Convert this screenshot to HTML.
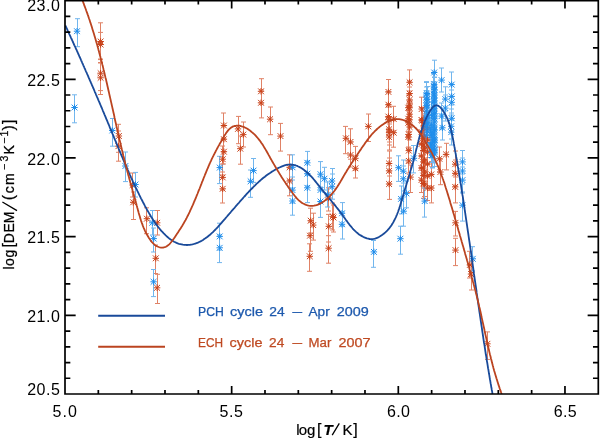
<!DOCTYPE html>
<html><head><meta charset="utf-8"><style>html,body{margin:0;padding:0;background:#fff;width:600px;height:439px;overflow:hidden}svg{display:block;will-change:transform}</style></head>
<body><svg width="600" height="439" viewBox="0 0 600 439"><rect width="600" height="439" fill="#fff"/><defs><clipPath id="c"><rect x="65" y="0.6" width="533.3" height="393.4"/></clipPath></defs><g clip-path="url(#c)" fill="none"><path d="M100.5,22.8V59.6M98.0,22.8h5.0M98.0,59.6h5.0M100.5,32.4V62.5M98.0,32.4h5.0M98.0,62.5h5.0M100.5,59.0V90.6M98.0,59.0h5.0M98.0,90.6h5.0M100.5,63.0V94.5M98.0,63.0h5.0M98.0,94.5h5.0M118.5,124.3V152.3M116.0,124.3h5.0M116.0,152.3h5.0M118.5,131.0V161.2M116.0,131.0h5.0M116.0,161.2h5.0M132.5,173.0V197.0M130.0,173.0h5.0M130.0,197.0h5.0M133.5,192.0V219.5M131.0,192.0h5.0M131.0,219.5h5.0M146.5,207.8V233.7M144.0,207.8h5.0M144.0,233.7h5.0M157.5,210.5V235.0M155.0,210.5h5.0M155.0,235.0h5.0M155.5,245.0V273.5M153.0,245.0h5.0M153.0,273.5h5.0M157.5,274.3V303.5M155.0,274.3h5.0M155.0,303.5h5.0M223.5,113.0V138.0M221.0,113.0h5.0M221.0,138.0h5.0M223.5,126.0V152.0M221.0,126.0h5.0M221.0,152.0h5.0M223.5,139.0V164.0M221.0,139.0h5.0M221.0,164.0h5.0M222.5,146.0V172.0M220.0,146.0h5.0M220.0,172.0h5.0M222.5,164.0V190.0M220.0,164.0h5.0M220.0,190.0h5.0M222.5,175.0V203.0M220.0,175.0h5.0M220.0,203.0h5.0M238.5,116.4V143.7M236.0,116.4h5.0M236.0,143.7h5.0M243.5,122.0V147.0M241.0,122.0h5.0M241.0,147.0h5.0M240.5,136.0V164.2M238.0,136.0h5.0M238.0,164.2h5.0M261.5,78.7V104.0M259.0,78.7h5.0M259.0,104.0h5.0M261.5,90.0V117.9M259.0,90.0h5.0M259.0,117.9h5.0M270.5,107.0V134.7M268.0,107.0h5.0M268.0,134.7h5.0M280.5,123.4V151.1M278.0,123.4h5.0M278.0,151.1h5.0M289.5,154.8V180.0M287.0,154.8h5.0M287.0,180.0h5.0M289.5,168.0V195.8M287.0,168.0h5.0M287.0,195.8h5.0M310.5,208.2V233.0M308.0,208.2h5.0M308.0,233.0h5.0M313.5,213.2V240.1M311.0,213.2h5.0M311.0,240.1h5.0M310.5,222.0V251.3M308.0,222.0h5.0M308.0,251.3h5.0M309.5,243.8V271.3M307.0,243.8h5.0M307.0,271.3h5.0M328.5,187.8V211.0M326.0,187.8h5.0M326.0,211.0h5.0M328.5,214.4V242.0M326.0,214.4h5.0M326.0,242.0h5.0M328.5,235.7V263.2M326.0,235.7h5.0M326.0,263.2h5.0M332.5,203.0V230.0M330.0,203.0h5.0M330.0,230.0h5.0M333.5,205.0V232.0M331.0,205.0h5.0M331.0,232.0h5.0M345.5,126.4V153.7M343.0,126.4h5.0M343.0,153.7h5.0M350.5,128.8V159.2M348.0,128.8h5.0M348.0,159.2h5.0M355.5,146.4V170.0M353.0,146.4h5.0M353.0,170.0h5.0M355.5,156.0V178.0M353.0,156.0h5.0M353.0,178.0h5.0M350.5,143.0V167.0M348.0,143.0h5.0M348.0,167.0h5.0M368.5,114.0V141.5M366.0,114.0h5.0M366.0,141.5h5.0M388.5,79.5V105.0M386.0,79.5h5.0M386.0,105.0h5.0M388.5,92.0V117.0M386.0,92.0h5.0M386.0,117.0h5.0M388.5,104.0V129.0M386.0,104.0h5.0M386.0,129.0h5.0M388.5,107.0V132.0M386.0,107.0h5.0M386.0,132.0h5.0M389.5,117.0V142.0M387.0,117.0h5.0M387.0,142.0h5.0M389.5,120.0V145.0M387.0,120.0h5.0M387.0,145.0h5.0M389.5,124.0V150.0M387.0,124.0h5.0M387.0,150.0h5.0M389.5,151.0V176.0M387.0,151.0h5.0M387.0,176.0h5.0M389.5,158.0V184.0M387.0,158.0h5.0M387.0,184.0h5.0M389.5,172.0V199.4M387.0,172.0h5.0M387.0,199.4h5.0M393.5,106.3V131.0M391.0,106.3h5.0M391.0,131.0h5.0M393.5,120.0V147.2M391.0,120.0h5.0M391.0,147.2h5.0M409.5,69.9V95.0M407.0,69.9h5.0M407.0,95.0h5.0M409.5,81.0V106.0M407.0,81.0h5.0M407.0,106.0h5.0M409.5,87.0V112.0M407.0,87.0h5.0M407.0,112.0h5.0M409.5,91.0V116.0M407.0,91.0h5.0M407.0,116.0h5.0M409.5,95.0V120.0M407.0,95.0h5.0M407.0,120.0h5.0M409.5,101.0V127.0M407.0,101.0h5.0M407.0,127.0h5.0M409.5,107.0V132.0M407.0,107.0h5.0M407.0,132.0h5.0M409.5,114.0V140.0M407.0,114.0h5.0M407.0,140.0h5.0M408.5,122.0V147.0M406.0,122.0h5.0M406.0,147.0h5.0M408.5,138.0V163.0M406.0,138.0h5.0M406.0,163.0h5.0M408.5,148.0V173.0M406.0,148.0h5.0M406.0,173.0h5.0M410.5,165.0V192.5M408.0,165.0h5.0M408.0,192.5h5.0M421.5,97.2V121.0M419.0,97.2h5.0M419.0,121.0h5.0M422.5,108.0V133.0M420.0,108.0h5.0M420.0,133.0h5.0M422.5,126.0V151.0M420.0,126.0h5.0M420.0,151.0h5.0M423.5,115.0V141.0M421.0,115.0h5.0M421.0,141.0h5.0M423.5,132.0V158.0M421.0,132.0h5.0M421.0,158.0h5.0M423.5,138.0V163.0M421.0,138.0h5.0M421.0,163.0h5.0M423.5,149.0V175.0M421.0,149.0h5.0M421.0,175.0h5.0M423.5,155.0V180.0M421.0,155.0h5.0M421.0,180.0h5.0M423.5,163.0V188.0M421.0,163.0h5.0M421.0,188.0h5.0M423.5,171.0V198.3M421.0,171.0h5.0M421.0,198.3h5.0M431.5,162.0V187.0M429.0,162.0h5.0M429.0,187.0h5.0M431.5,175.0V202.9M429.0,175.0h5.0M429.0,202.9h5.0M439.5,147.0V172.0M437.0,147.0h5.0M437.0,172.0h5.0M440.5,159.0V184.7M438.0,159.0h5.0M438.0,184.7h5.0M446.5,143.3V169.9M444.0,143.3h5.0M444.0,169.9h5.0M455.5,151.0V177.0M453.0,151.0h5.0M453.0,177.0h5.0M455.5,160.0V186.0M453.0,160.0h5.0M453.0,186.0h5.0M455.5,174.0V202.9M453.0,174.0h5.0M453.0,202.9h5.0M455.5,211.4V236.0M453.0,211.4h5.0M453.0,236.0h5.0M455.5,238.3V265.6M453.0,238.3h5.0M453.0,265.6h5.0M469.5,251.3V278.0M467.0,251.3h5.0M467.0,278.0h5.0M471.5,261.0V290.0M469.0,261.0h5.0M469.0,290.0h5.0M487.5,331.9V359.4M485.0,331.9h5.0M485.0,359.4h5.0M421.5,107.5V132.5M419.0,107.5h5.0M419.0,132.5h5.0M424.5,111.5V136.5M422.0,111.5h5.0M422.0,136.5h5.0M427.5,115.5V140.5M425.0,115.5h5.0M425.0,140.5h5.0M421.5,119.5V144.5M419.0,119.5h5.0M419.0,144.5h5.0M424.5,123.5V148.5M422.0,123.5h5.0M422.0,148.5h5.0M427.5,127.5V152.5M425.0,127.5h5.0M425.0,152.5h5.0M421.5,131.5V156.5M419.0,131.5h5.0M419.0,156.5h5.0M424.5,135.5V160.5M422.0,135.5h5.0M422.0,160.5h5.0M427.5,139.5V164.5M425.0,139.5h5.0M425.0,164.5h5.0M421.5,143.5V168.5M419.0,143.5h5.0M419.0,168.5h5.0M424.5,147.5V172.5M422.0,147.5h5.0M422.0,172.5h5.0M427.5,151.5V176.5M425.0,151.5h5.0M425.0,176.5h5.0M421.5,155.5V180.5M419.0,155.5h5.0M419.0,180.5h5.0M424.5,159.5V184.5M422.0,159.5h5.0M422.0,184.5h5.0M427.5,163.5V188.5M425.0,163.5h5.0M425.0,188.5h5.0M421.5,167.5V192.5M419.0,167.5h5.0M419.0,192.5h5.0M424.5,171.5V196.5M422.0,171.5h5.0M422.0,196.5h5.0M427.5,175.5V200.5M425.0,175.5h5.0M425.0,200.5h5.0M408.5,95.2V120.2M406.0,95.2h5.0M406.0,120.2h5.0M408.5,106.2V131.2M406.0,106.2h5.0M406.0,131.2h5.0M408.5,110.3V135.3M406.0,110.3h5.0M406.0,135.3h5.0M408.5,124.6V149.6M406.0,124.6h5.0M406.0,149.6h5.0" stroke="#e08266" stroke-width="1"/><path d="M77.5,18.7V46.7M75.0,18.7h5.0M75.0,46.7h5.0M74.5,94.8V122.8M72.0,94.8h5.0M72.0,122.8h5.0M112.5,118.5V146.2M110.0,118.5h5.0M110.0,146.2h5.0M125.5,152.0V181.6M123.0,152.0h5.0M123.0,181.6h5.0M135.5,172.4V197.0M133.0,172.4h5.0M133.0,197.0h5.0M152.5,210.5V235.0M150.0,210.5h5.0M150.0,235.0h5.0M153.5,228.0V252.0M151.0,228.0h5.0M151.0,252.0h5.0M153.5,269.5V296.6M151.0,269.5h5.0M151.0,296.6h5.0M219.5,156.3V183.6M217.0,156.3h5.0M217.0,183.6h5.0M250.5,170.0V197.3M248.0,170.0h5.0M248.0,197.3h5.0M253.5,158.5V182.4M251.0,158.5h5.0M251.0,182.4h5.0M219.5,223.2V250.0M217.0,223.2h5.0M217.0,250.0h5.0M219.5,235.0V262.6M217.0,235.0h5.0M217.0,262.6h5.0M292.5,154.8V180.0M290.0,154.8h5.0M290.0,180.0h5.0M292.5,177.0V203.0M290.0,177.0h5.0M290.0,203.0h5.0M292.5,188.0V215.2M290.0,188.0h5.0M290.0,215.2h5.0M307.5,151.4V175.0M305.0,151.4h5.0M305.0,175.0h5.0M307.5,161.0V186.0M305.0,161.0h5.0M305.0,186.0h5.0M307.5,175.0V202.6M305.0,175.0h5.0M305.0,202.6h5.0M320.5,161.6V187.0M318.0,161.6h5.0M318.0,187.0h5.0M320.5,177.0V203.0M318.0,177.0h5.0M318.0,203.0h5.0M320.5,188.0V217.4M318.0,188.0h5.0M318.0,217.4h5.0M324.5,167.3V190.0M322.0,167.3h5.0M322.0,190.0h5.0M332.5,168.5V194.0M330.0,168.5h5.0M330.0,194.0h5.0M332.5,174.0V199.2M330.0,174.0h5.0M330.0,199.2h5.0M327.5,182.0V207.0M325.0,182.0h5.0M325.0,207.0h5.0M342.5,202.6V226.0M340.0,202.6h5.0M340.0,226.0h5.0M342.5,212.0V239.0M340.0,212.0h5.0M340.0,239.0h5.0M373.5,240.5V267.3M371.0,240.5h5.0M371.0,267.3h5.0M403.5,197.0V226.2M401.0,197.0h5.0M401.0,226.2h5.0M400.5,226.2V254.2M398.0,226.2h5.0M398.0,254.2h5.0M424.5,188.0V217.1M422.0,188.0h5.0M422.0,217.1h5.0M398.5,155.8V181.4M396.0,155.8h5.0M396.0,181.4h5.0M403.5,160.0V183.0M401.0,160.0h5.0M401.0,183.0h5.0M403.5,166.0V191.0M401.0,166.0h5.0M401.0,191.0h5.0M401.5,186.0V213.9M399.0,186.0h5.0M399.0,213.9h5.0M406.5,181.0V207.8M404.0,181.0h5.0M404.0,207.8h5.0M413.5,145.5V172.9M411.0,145.5h5.0M411.0,172.9h5.0M426.5,81.6V106.0M424.0,81.6h5.0M424.0,106.0h5.0M426.5,87.0V112.0M424.0,87.0h5.0M424.0,112.0h5.0M426.5,93.0V118.0M424.0,93.0h5.0M424.0,118.0h5.0M426.5,105.0V131.0M424.0,105.0h5.0M424.0,131.0h5.0M426.5,112.0V138.0M424.0,112.0h5.0M424.0,138.0h5.0M434.5,60.2V85.0M432.0,60.2h5.0M432.0,85.0h5.0M434.5,72.0V97.0M432.0,72.0h5.0M432.0,97.0h5.0M434.5,77.0V102.0M432.0,77.0h5.0M432.0,102.0h5.0M434.5,82.0V108.0M432.0,82.0h5.0M432.0,108.0h5.0M434.5,88.0V113.0M432.0,88.0h5.0M432.0,113.0h5.0M434.5,95.0V121.0M432.0,95.0h5.0M432.0,121.0h5.0M434.5,101.0V126.0M432.0,101.0h5.0M432.0,126.0h5.0M434.5,105.0V131.0M432.0,105.0h5.0M432.0,131.0h5.0M434.5,117.0V142.0M432.0,117.0h5.0M432.0,142.0h5.0M434.5,127.0V153.0M432.0,127.0h5.0M432.0,153.0h5.0M434.5,137.0V163.0M432.0,137.0h5.0M432.0,163.0h5.0M431.5,102.0V128.0M429.0,102.0h5.0M429.0,128.0h5.0M431.5,112.0V138.0M429.0,112.0h5.0M429.0,138.0h5.0M431.5,122.0V148.0M429.0,122.0h5.0M429.0,148.0h5.0M431.5,132.0V158.0M429.0,132.0h5.0M429.0,158.0h5.0M432.5,142.0V168.0M430.0,142.0h5.0M430.0,168.0h5.0M441.5,68.0V92.0M439.0,68.0h5.0M439.0,92.0h5.0M441.5,103.0V129.0M439.0,103.0h5.0M439.0,129.0h5.0M442.5,114.0V140.0M440.0,114.0h5.0M440.0,140.0h5.0M445.5,86.8V111.0M443.0,86.8h5.0M443.0,111.0h5.0M445.5,95.0V121.0M443.0,95.0h5.0M443.0,121.0h5.0M451.5,72.0V97.0M449.0,72.0h5.0M449.0,97.0h5.0M451.5,84.0V109.0M449.0,84.0h5.0M449.0,109.0h5.0M451.5,90.0V115.0M449.0,90.0h5.0M449.0,115.0h5.0M451.5,105.0V131.0M449.0,105.0h5.0M449.0,131.0h5.0M451.5,113.0V139.0M449.0,113.0h5.0M449.0,139.0h5.0M451.5,120.0V145.0M449.0,120.0h5.0M449.0,145.0h5.0M462.5,150.5V174.0M460.0,150.5h5.0M460.0,174.0h5.0M462.5,158.0V184.0M460.0,158.0h5.0M460.0,184.0h5.0M462.5,167.0V193.0M460.0,167.0h5.0M460.0,193.0h5.0M462.5,192.0V221.1M460.0,192.0h5.0M460.0,221.1h5.0M472.5,246.7V271.0M470.0,246.7h5.0M470.0,271.0h5.0M426.5,82.5V107.5M424.0,82.5h5.0M424.0,107.5h5.0M427.5,86.5V111.5M425.0,86.5h5.0M425.0,111.5h5.0M426.5,90.5V115.5M424.0,90.5h5.0M424.0,115.5h5.0M427.5,94.5V119.5M425.0,94.5h5.0M425.0,119.5h5.0M426.5,98.5V123.5M424.0,98.5h5.0M424.0,123.5h5.0M427.5,102.5V127.5M425.0,102.5h5.0M425.0,127.5h5.0M426.5,106.5V131.5M424.0,106.5h5.0M424.0,131.5h5.0M427.5,110.5V135.5M425.0,110.5h5.0M425.0,135.5h5.0M426.5,114.5V139.5M424.0,114.5h5.0M424.0,139.5h5.0M427.5,118.5V143.5M425.0,118.5h5.0M425.0,143.5h5.0M426.5,122.5V147.5M424.0,122.5h5.0M424.0,147.5h5.0M433.5,73.5V98.5M431.0,73.5h5.0M431.0,98.5h5.0M434.5,77.5V102.5M432.0,77.5h5.0M432.0,102.5h5.0M433.5,81.5V106.5M431.0,81.5h5.0M431.0,106.5h5.0M434.5,85.5V110.5M432.0,85.5h5.0M432.0,110.5h5.0M433.5,89.5V114.5M431.0,89.5h5.0M431.0,114.5h5.0M434.5,93.5V118.5M432.0,93.5h5.0M432.0,118.5h5.0M433.5,97.5V122.5M431.0,97.5h5.0M431.0,122.5h5.0M434.5,101.5V126.5M432.0,101.5h5.0M432.0,126.5h5.0M433.5,105.5V130.5M431.0,105.5h5.0M431.0,130.5h5.0M434.5,109.5V134.5M432.0,109.5h5.0M432.0,134.5h5.0M433.5,113.5V138.5M431.0,113.5h5.0M431.0,138.5h5.0M434.5,117.5V142.5M432.0,117.5h5.0M432.0,142.5h5.0M433.5,121.5V146.5M431.0,121.5h5.0M431.0,146.5h5.0M434.5,125.5V150.5M432.0,125.5h5.0M432.0,150.5h5.0M433.5,129.5V154.5M431.0,129.5h5.0M431.0,154.5h5.0M434.5,133.5V158.5M432.0,133.5h5.0M432.0,158.5h5.0M433.5,137.5V162.5M431.0,137.5h5.0M431.0,162.5h5.0M434.5,141.5V166.5M432.0,141.5h5.0M432.0,166.5h5.0M430.5,117.5V142.5M428.0,117.5h5.0M428.0,142.5h5.0M431.5,122.5V147.5M429.0,122.5h5.0M429.0,147.5h5.0M432.5,127.5V152.5M430.0,127.5h5.0M430.0,152.5h5.0M430.5,132.5V157.5M428.0,132.5h5.0M428.0,157.5h5.0M431.5,137.5V162.5M429.0,137.5h5.0M429.0,162.5h5.0M432.5,142.5V167.5M430.0,142.5h5.0M430.0,167.5h5.0" stroke="#72b6ed" stroke-width="1"/><path d="M97.4,41.5h6.4M100.6,38.3v6.4M97.7,38.6l5.8,5.8M97.7,44.4l5.8,-5.8M97.4,44.5h6.4M100.6,41.3v6.4M97.7,41.6l5.8,5.8M97.7,47.4l5.8,-5.8M97.4,73.2h6.4M100.6,70.0v6.4M97.7,70.3l5.8,5.8M97.7,76.1l5.8,-5.8M97.4,77.8h6.4M100.6,74.6v6.4M97.7,74.9l5.8,5.8M97.7,80.7l5.8,-5.8M115.7,136.0h6.4M118.9,132.8v6.4M116.0,133.1l5.8,5.8M116.0,138.9l5.8,-5.8M115.2,146.2h6.4M118.4,143.0v6.4M115.5,143.3l5.8,5.8M115.5,149.1l5.8,-5.8M129.4,185.0h6.4M132.6,181.8v6.4M129.7,182.1l5.8,5.8M129.7,187.9l5.8,-5.8M130.0,202.3h6.4M133.2,199.1v6.4M130.3,199.4l5.8,5.8M130.3,205.2l5.8,-5.8M143.7,218.7h6.4M146.9,215.5v6.4M144.0,215.8l5.8,5.8M144.0,221.6l5.8,-5.8M154.0,222.8h6.4M157.2,219.6v6.4M154.3,219.9l5.8,5.8M154.3,225.7l5.8,-5.8M152.6,258.3h6.4M155.8,255.1v6.4M152.9,255.4l5.8,5.8M152.9,261.2l5.8,-5.8M153.9,287.8h6.4M157.1,284.6v6.4M154.2,284.9l5.8,5.8M154.2,290.7l5.8,-5.8M220.7,125.5h6.4M223.9,122.3v6.4M221.0,122.6l5.8,5.8M221.0,128.4l5.8,-5.8M220.7,139.2h6.4M223.9,136.0v6.4M221.0,136.3l5.8,5.8M221.0,142.1l5.8,-5.8M220.7,151.7h6.4M223.9,148.5v6.4M221.0,148.8l5.8,5.8M221.0,154.6l5.8,-5.8M219.5,159.2h6.4M222.7,156.0v6.4M219.8,156.3l5.8,5.8M219.8,162.1l5.8,-5.8M219.5,177.4h6.4M222.7,174.2v6.4M219.8,174.5l5.8,5.8M219.8,180.3l5.8,-5.8M219.5,188.8h6.4M222.7,185.6v6.4M219.8,185.9l5.8,5.8M219.8,191.7l5.8,-5.8M234.8,128.9h6.4M238.0,125.7v6.4M235.1,126.0l5.8,5.8M235.1,131.8l5.8,-5.8M240.1,134.6h6.4M243.3,131.4v6.4M240.4,131.7l5.8,5.8M240.4,137.5l5.8,-5.8M237.1,148.7h6.4M240.3,145.5v6.4M237.4,145.8l5.8,5.8M237.4,151.6l5.8,-5.8M257.8,91.3h6.4M261.0,88.1v6.4M258.1,88.4l5.8,5.8M258.1,94.2l5.8,-5.8M257.8,102.8h6.4M261.0,99.6v6.4M258.1,99.9l5.8,5.8M258.1,105.7l5.8,-5.8M266.9,119.2h6.4M270.1,116.0v6.4M267.2,116.3l5.8,5.8M267.2,122.1l5.8,-5.8M277.3,136.1h6.4M280.5,132.9v6.4M277.6,133.2l5.8,5.8M277.6,139.0l5.8,-5.8M286.4,167.3h6.4M289.6,164.1v6.4M286.7,164.4l5.8,5.8M286.7,170.2l5.8,-5.8M286.4,181.0h6.4M289.6,177.8v6.4M286.7,178.1l5.8,5.8M286.7,183.9l5.8,-5.8M307.5,220.7h6.4M310.7,217.5v6.4M307.8,217.8l5.8,5.8M307.8,223.6l5.8,-5.8M310.0,225.1h6.4M313.2,221.9v6.4M310.3,222.2l5.8,5.8M310.3,228.0l5.8,-5.8M306.8,235.7h6.4M310.0,232.5v6.4M307.1,232.8l5.8,5.8M307.1,238.6l5.8,-5.8M306.6,256.3h6.4M309.8,253.1v6.4M306.9,253.4l5.8,5.8M306.9,259.2l5.8,-5.8M325.3,198.0h6.4M328.5,194.8v6.4M325.6,195.1l5.8,5.8M325.6,200.9l5.8,-5.8M325.6,226.3h6.4M328.8,223.1v6.4M325.9,223.4l5.8,5.8M325.9,229.2l5.8,-5.8M325.4,248.2h6.4M328.6,245.0v6.4M325.7,245.3l5.8,5.8M325.7,251.1l5.8,-5.8M329.4,216.3h6.4M332.6,213.1v6.4M329.7,213.4l5.8,5.8M329.7,219.2l5.8,-5.8M330.3,217.5h6.4M333.5,214.3v6.4M330.6,214.6l5.8,5.8M330.6,220.4l5.8,-5.8M342.7,138.3h6.4M345.9,135.1v6.4M343.0,135.4l5.8,5.8M343.0,141.2l5.8,-5.8M347.3,141.9h6.4M350.5,138.7v6.4M347.6,139.0l5.8,5.8M347.6,144.8l5.8,-5.8M352.2,158.3h6.4M355.4,155.1v6.4M352.5,155.4l5.8,5.8M352.5,161.2l5.8,-5.8M352.2,168.3h6.4M355.4,165.1v6.4M352.5,165.4l5.8,5.8M352.5,171.2l5.8,-5.8M347.3,155.0h6.4M350.5,151.8v6.4M347.6,152.1l5.8,5.8M347.6,157.9l5.8,-5.8M365.1,126.4h6.4M368.3,123.2v6.4M365.4,123.5l5.8,5.8M365.4,129.3l5.8,-5.8M385.2,91.9h6.4M388.4,88.7v6.4M385.5,89.0l5.8,5.8M385.5,94.8l5.8,-5.8M385.2,104.7h6.4M388.4,101.5v6.4M385.5,101.8l5.8,5.8M385.5,107.6l5.8,-5.8M385.2,116.6h6.4M388.4,113.4v6.4M385.5,113.7l5.8,5.8M385.5,119.5l5.8,-5.8M385.2,119.8h6.4M388.4,116.6v6.4M385.5,116.9l5.8,5.8M385.5,122.7l5.8,-5.8M385.9,129.3h6.4M389.1,126.1v6.4M386.2,126.4l5.8,5.8M386.2,132.2l5.8,-5.8M385.9,132.7h6.4M389.1,129.5v6.4M386.2,129.8l5.8,5.8M386.2,135.6l5.8,-5.8M385.9,137.0h6.4M389.1,133.8v6.4M386.2,134.1l5.8,5.8M386.2,139.9l5.8,-5.8M385.9,163.5h6.4M389.1,160.3v6.4M386.2,160.6l5.8,5.8M386.2,166.4l5.8,-5.8M385.9,170.8h6.4M389.1,167.6v6.4M386.2,167.9l5.8,5.8M386.2,173.7l5.8,-5.8M385.9,184.0h6.4M389.1,180.8v6.4M386.2,181.1l5.8,5.8M386.2,186.9l5.8,-5.8M390.5,119.0h6.4M393.7,115.8v6.4M390.8,116.1l5.8,5.8M390.8,121.9l5.8,-5.8M390.5,132.7h6.4M393.7,129.5v6.4M390.8,129.8l5.8,5.8M390.8,135.6l5.8,-5.8M406.4,82.3h6.4M409.6,79.1v6.4M406.7,79.4l5.8,5.8M406.7,85.2l5.8,-5.8M406.4,93.5h6.4M409.6,90.3v6.4M406.7,90.6l5.8,5.8M406.7,96.4l5.8,-5.8M406.4,99.9h6.4M409.6,96.7v6.4M406.7,97.0l5.8,5.8M406.7,102.8l5.8,-5.8M406.4,103.9h6.4M409.6,100.7v6.4M406.7,101.0l5.8,5.8M406.7,106.8l5.8,-5.8M406.4,107.8h6.4M409.6,104.6v6.4M406.7,104.9l5.8,5.8M406.7,110.7l5.8,-5.8M406.4,114.2h6.4M409.6,111.0v6.4M406.7,111.3l5.8,5.8M406.7,117.1l5.8,-5.8M406.4,119.8h6.4M409.6,116.6v6.4M406.7,116.9l5.8,5.8M406.7,122.7l5.8,-5.8M406.4,127.0h6.4M409.6,123.8v6.4M406.7,124.1l5.8,5.8M406.7,129.9l5.8,-5.8M405.6,134.4h6.4M408.8,131.2v6.4M405.9,131.5l5.8,5.8M405.9,137.3l5.8,-5.8M405.6,150.6h6.4M408.8,147.4v6.4M405.9,147.7l5.8,5.8M405.9,153.5l5.8,-5.8M405.6,160.9h6.4M408.8,157.7v6.4M405.9,158.0l5.8,5.8M405.9,163.8l5.8,-5.8M407.3,177.1h6.4M410.5,173.9v6.4M407.6,174.2l5.8,5.8M407.6,180.0l5.8,-5.8M418.5,109.0h6.4M421.7,105.8v6.4M418.8,106.1l5.8,5.8M418.8,111.9l5.8,-5.8M419.3,120.6h6.4M422.5,117.4v6.4M419.6,117.7l5.8,5.8M419.6,123.5l5.8,-5.8M419.3,138.8h6.4M422.5,135.6v6.4M419.6,135.9l5.8,5.8M419.6,141.7l5.8,-5.8M420.7,128.0h6.4M423.9,124.8v6.4M421.0,125.1l5.8,5.8M421.0,130.9l5.8,-5.8M420.7,145.0h6.4M423.9,141.8v6.4M421.0,142.1l5.8,5.8M421.0,147.9l5.8,-5.8M420.1,150.5h6.4M423.3,147.3v6.4M420.4,147.6l5.8,5.8M420.4,153.4l5.8,-5.8M420.1,161.9h6.4M423.3,158.7v6.4M420.4,159.0l5.8,5.8M420.4,164.8l5.8,-5.8M420.1,168.0h6.4M423.3,164.8v6.4M420.4,165.1l5.8,5.8M420.4,170.9l5.8,-5.8M420.1,175.6h6.4M423.3,172.4v6.4M420.4,172.7l5.8,5.8M420.4,178.5l5.8,-5.8M420.1,183.5h6.4M423.3,180.3v6.4M420.4,180.6l5.8,5.8M420.4,186.4l5.8,-5.8M428.1,174.4h6.4M431.3,171.2v6.4M428.4,171.5l5.8,5.8M428.4,177.3l5.8,-5.8M428.1,188.1h6.4M431.3,184.9v6.4M428.4,185.2l5.8,5.8M428.4,191.0l5.8,-5.8M436.2,158.8h6.4M439.4,155.6v6.4M436.5,155.9l5.8,5.8M436.5,161.7l5.8,-5.8M437.2,172.0h6.4M440.4,168.8v6.4M437.5,169.1l5.8,5.8M437.5,174.9l5.8,-5.8M442.9,154.4h6.4M446.1,151.2v6.4M443.2,151.5l5.8,5.8M443.2,157.3l5.8,-5.8M452.0,164.2h6.4M455.2,161.0v6.4M452.3,161.3l5.8,5.8M452.3,167.1l5.8,-5.8M452.0,173.3h6.4M455.2,170.1v6.4M452.3,170.4l5.8,5.8M452.3,176.2l5.8,-5.8M452.0,186.9h6.4M455.2,183.7v6.4M452.3,184.0l5.8,5.8M452.3,189.8l5.8,-5.8M452.3,222.8h6.4M455.5,219.6v6.4M452.6,219.9l5.8,5.8M452.6,225.7l5.8,-5.8M452.3,250.1h6.4M455.5,246.9v6.4M452.6,247.2l5.8,5.8M452.6,253.0l5.8,-5.8M466.7,264.9h6.4M469.9,261.7v6.4M467.0,262.0l5.8,5.8M467.0,267.8l5.8,-5.8M467.8,274.0h6.4M471.0,270.8v6.4M468.1,271.1l5.8,5.8M468.1,276.9l5.8,-5.8M484.2,343.8h6.4M487.4,340.6v6.4M484.5,340.9l5.8,5.8M484.5,346.7l5.8,-5.8M418.3,120.0h6.4M421.5,116.8v6.4M418.6,117.1l5.8,5.8M418.6,122.9l5.8,-5.8M421.3,124.0h6.4M424.5,120.8v6.4M421.6,121.1l5.8,5.8M421.6,126.9l5.8,-5.8M424.3,128.0h6.4M427.5,124.8v6.4M424.6,125.1l5.8,5.8M424.6,130.9l5.8,-5.8M418.3,132.0h6.4M421.5,128.8v6.4M418.6,129.1l5.8,5.8M418.6,134.9l5.8,-5.8M421.3,136.0h6.4M424.5,132.8v6.4M421.6,133.1l5.8,5.8M421.6,138.9l5.8,-5.8M424.3,140.0h6.4M427.5,136.8v6.4M424.6,137.1l5.8,5.8M424.6,142.9l5.8,-5.8M418.3,144.0h6.4M421.5,140.8v6.4M418.6,141.1l5.8,5.8M418.6,146.9l5.8,-5.8M421.3,148.0h6.4M424.5,144.8v6.4M421.6,145.1l5.8,5.8M421.6,150.9l5.8,-5.8M424.3,152.0h6.4M427.5,148.8v6.4M424.6,149.1l5.8,5.8M424.6,154.9l5.8,-5.8M418.3,156.0h6.4M421.5,152.8v6.4M418.6,153.1l5.8,5.8M418.6,158.9l5.8,-5.8M421.3,160.0h6.4M424.5,156.8v6.4M421.6,157.1l5.8,5.8M421.6,162.9l5.8,-5.8M424.3,164.0h6.4M427.5,160.8v6.4M424.6,161.1l5.8,5.8M424.6,166.9l5.8,-5.8M418.3,168.0h6.4M421.5,164.8v6.4M418.6,165.1l5.8,5.8M418.6,170.9l5.8,-5.8M421.3,172.0h6.4M424.5,168.8v6.4M421.6,169.1l5.8,5.8M421.6,174.9l5.8,-5.8M424.3,176.0h6.4M427.5,172.8v6.4M424.6,173.1l5.8,5.8M424.6,178.9l5.8,-5.8M418.3,180.0h6.4M421.5,176.8v6.4M418.6,177.1l5.8,5.8M418.6,182.9l5.8,-5.8M421.3,184.0h6.4M424.5,180.8v6.4M421.6,181.1l5.8,5.8M421.6,186.9l5.8,-5.8M424.3,188.0h6.4M427.5,184.8v6.4M424.6,185.1l5.8,5.8M424.6,190.9l5.8,-5.8M405.1,107.7h6.4M408.3,104.5v6.4M405.4,104.8l5.8,5.8M405.4,110.6l5.8,-5.8M405.1,118.7h6.4M408.3,115.5v6.4M405.4,115.8l5.8,5.8M405.4,121.6l5.8,-5.8M405.1,122.8h6.4M408.3,119.6v6.4M405.4,119.9l5.8,5.8M405.4,125.7l5.8,-5.8M405.1,137.1h6.4M408.3,133.9v6.4M405.4,134.2l5.8,5.8M405.4,140.0l5.8,-5.8" stroke="#c9421a" stroke-width="1"/><path d="M73.8,31.2h6.4M77.0,28.0v6.4M74.1,28.3l5.8,5.8M74.1,34.1l5.8,-5.8M71.3,107.5h6.4M74.5,104.3v6.4M71.6,104.6l5.8,5.8M71.6,110.4l5.8,-5.8M109.1,130.5h6.4M112.3,127.3v6.4M109.4,127.6l5.8,5.8M109.4,133.4l5.8,-5.8M122.2,166.0h6.4M125.4,162.8v6.4M122.5,163.1l5.8,5.8M122.5,168.9l5.8,-5.8M132.3,184.5h6.4M135.5,181.3v6.4M132.6,181.6l5.8,5.8M132.6,187.4l5.8,-5.8M149.1,222.8h6.4M152.3,219.6v6.4M149.4,219.9l5.8,5.8M149.4,225.7l5.8,-5.8M150.5,238.6h6.4M153.7,235.4v6.4M150.8,235.7l5.8,5.8M150.8,241.5l5.8,-5.8M150.4,281.8h6.4M153.6,278.6v6.4M150.7,278.9l5.8,5.8M150.7,284.7l5.8,-5.8M216.6,167.6h6.4M219.8,164.4v6.4M216.9,164.7l5.8,5.8M216.9,170.5l5.8,-5.8M247.4,181.3h6.4M250.6,178.1v6.4M247.7,178.4l5.8,5.8M247.7,184.2l5.8,-5.8M250.3,170.6h6.4M253.5,167.4v6.4M250.6,167.7l5.8,5.8M250.6,173.5l5.8,-5.8M216.5,236.4h6.4M219.7,233.2v6.4M216.8,233.5l5.8,5.8M216.8,239.3l5.8,-5.8M216.5,247.8h6.4M219.7,244.6v6.4M216.8,244.9l5.8,5.8M216.8,250.7l5.8,-5.8M289.3,167.3h6.4M292.5,164.1v6.4M289.6,164.4l5.8,5.8M289.6,170.2l5.8,-5.8M289.3,190.1h6.4M292.5,186.9v6.4M289.6,187.2l5.8,5.8M289.6,193.0l5.8,-5.8M289.3,201.0h6.4M292.5,197.8v6.4M289.6,198.1l5.8,5.8M289.6,203.9l5.8,-5.8M304.1,162.8h6.4M307.3,159.6v6.4M304.4,159.9l5.8,5.8M304.4,165.7l5.8,-5.8M304.1,173.7h6.4M307.3,170.5v6.4M304.4,170.8l5.8,5.8M304.4,176.6l5.8,-5.8M304.1,187.8h6.4M307.3,184.6v6.4M304.4,184.9l5.8,5.8M304.4,190.7l5.8,-5.8M317.3,174.2h6.4M320.5,171.0v6.4M317.6,171.3l5.8,5.8M317.6,177.1l5.8,-5.8M317.3,190.0h6.4M320.5,186.8v6.4M317.6,187.1l5.8,5.8M317.6,192.9l5.8,-5.8M317.3,201.5h6.4M320.5,198.3v6.4M317.6,198.6l5.8,5.8M317.6,204.4l5.8,-5.8M321.2,178.7h6.4M324.4,175.5v6.4M321.5,175.8l5.8,5.8M321.5,181.6l5.8,-5.8M328.8,181.0h6.4M332.0,177.8v6.4M329.1,178.1l5.8,5.8M329.1,183.9l5.8,-5.8M328.8,186.7h6.4M332.0,183.5v6.4M329.1,183.8l5.8,5.8M329.1,189.6l5.8,-5.8M324.6,194.7h6.4M327.8,191.5v6.4M324.9,191.8l5.8,5.8M324.9,197.6l5.8,-5.8M338.8,213.3h6.4M342.0,210.1v6.4M339.1,210.4l5.8,5.8M339.1,216.2l5.8,-5.8M338.8,224.3h6.4M342.0,221.1v6.4M339.1,221.4l5.8,5.8M339.1,227.2l5.8,-5.8M370.7,251.9h6.4M373.9,248.7v6.4M371.0,249.0l5.8,5.8M371.0,254.8l5.8,-5.8M400.5,211.2h6.4M403.7,208.0v6.4M400.8,208.3l5.8,5.8M400.8,214.1l5.8,-5.8M397.2,238.7h6.4M400.4,235.5v6.4M397.5,235.8l5.8,5.8M397.5,241.6l5.8,-5.8M421.5,201.1h6.4M424.7,197.9v6.4M421.8,198.2l5.8,5.8M421.8,204.0l5.8,-5.8M395.3,167.7h6.4M398.5,164.5v6.4M395.6,164.8l5.8,5.8M395.6,170.6l5.8,-5.8M400.1,171.2h6.4M403.3,168.0v6.4M400.4,168.3l5.8,5.8M400.4,174.1l5.8,-5.8M400.1,178.8h6.4M403.3,175.6v6.4M400.4,175.9l5.8,5.8M400.4,181.7l5.8,-5.8M397.8,198.9h6.4M401.0,195.7v6.4M398.1,196.0l5.8,5.8M398.1,201.8l5.8,-5.8M403.2,193.4h6.4M406.4,190.2v6.4M403.5,190.5l5.8,5.8M403.5,196.3l5.8,-5.8M410.7,158.3h6.4M413.9,155.1v6.4M411.0,155.4l5.8,5.8M411.0,161.2l5.8,-5.8M423.6,93.5h6.4M426.8,90.3v6.4M423.9,90.6l5.8,5.8M423.9,96.4l5.8,-5.8M423.6,99.4h6.4M426.8,96.2v6.4M423.9,96.5l5.8,5.8M423.9,102.3l5.8,-5.8M423.6,105.3h6.4M426.8,102.1v6.4M423.9,102.4l5.8,5.8M423.9,108.2l5.8,-5.8M423.4,118.3h6.4M426.6,115.1v6.4M423.7,115.4l5.8,5.8M423.7,121.2l5.8,-5.8M423.4,125.2h6.4M426.6,122.0v6.4M423.7,122.3l5.8,5.8M423.7,128.1l5.8,-5.8M431.0,72.5h6.4M434.2,69.3v6.4M431.3,69.6l5.8,5.8M431.3,75.4l5.8,-5.8M431.0,84.6h6.4M434.2,81.4v6.4M431.3,81.7l5.8,5.8M431.3,87.5l5.8,-5.8M431.0,89.8h6.4M434.2,86.6v6.4M431.3,86.9l5.8,5.8M431.3,92.7l5.8,-5.8M431.0,95.0h6.4M434.2,91.8v6.4M431.3,92.1l5.8,5.8M431.3,97.9l5.8,-5.8M431.0,100.9h6.4M434.2,97.7v6.4M431.3,98.0l5.8,5.8M431.3,103.8l5.8,-5.8M431.0,108.3h6.4M434.2,105.1v6.4M431.3,105.4l5.8,5.8M431.3,111.2l5.8,-5.8M431.0,113.8h6.4M434.2,110.6v6.4M431.3,110.9l5.8,5.8M431.3,116.7l5.8,-5.8M431.0,118.3h6.4M434.2,115.1v6.4M431.3,115.4l5.8,5.8M431.3,121.2l5.8,-5.8M431.0,129.7h6.4M434.2,126.5v6.4M431.3,126.8l5.8,5.8M431.3,132.6l5.8,-5.8M431.5,140.0h6.4M434.7,136.8v6.4M431.8,137.1l5.8,5.8M431.8,142.9l5.8,-5.8M431.5,150.0h6.4M434.7,146.8v6.4M431.8,147.1l5.8,5.8M431.8,152.9l5.8,-5.8M428.1,115.0h6.4M431.3,111.8v6.4M428.4,112.1l5.8,5.8M428.4,117.9l5.8,-5.8M428.1,125.0h6.4M431.3,121.8v6.4M428.4,122.1l5.8,5.8M428.4,127.9l5.8,-5.8M428.1,135.0h6.4M431.3,131.8v6.4M428.4,132.1l5.8,5.8M428.4,137.9l5.8,-5.8M428.1,145.0h6.4M431.3,141.8v6.4M428.4,142.1l5.8,5.8M428.4,147.9l5.8,-5.8M428.8,155.0h6.4M432.0,151.8v6.4M429.1,152.1l5.8,5.8M429.1,157.9l5.8,-5.8M438.4,80.1h6.4M441.6,76.9v6.4M438.7,77.2l5.8,5.8M438.7,83.0l5.8,-5.8M438.4,116.1h6.4M441.6,112.9v6.4M438.7,113.2l5.8,5.8M438.7,119.0l5.8,-5.8M439.2,127.8h6.4M442.4,124.6v6.4M439.5,124.9l5.8,5.8M439.5,130.7l5.8,-5.8M442.1,99.1h6.4M445.3,95.9v6.4M442.4,96.2l5.8,5.8M442.4,102.0l5.8,-5.8M442.1,108.1h6.4M445.3,104.9v6.4M442.4,105.2l5.8,5.8M442.4,111.0l5.8,-5.8M448.5,84.6h6.4M451.7,81.4v6.4M448.8,81.7l5.8,5.8M448.8,87.5l5.8,-5.8M448.5,96.4h6.4M451.7,93.2v6.4M448.8,93.5l5.8,5.8M448.8,99.3l5.8,-5.8M448.5,102.3h6.4M451.7,99.1v6.4M448.8,99.4l5.8,5.8M448.8,105.2l5.8,-5.8M448.5,118.3h6.4M451.7,115.1v6.4M448.8,115.4l5.8,5.8M448.8,121.2l5.8,-5.8M448.0,126.3h6.4M451.2,123.1v6.4M448.3,123.4l5.8,5.8M448.3,129.2l5.8,-5.8M448.0,132.2h6.4M451.2,129.0v6.4M448.3,129.3l5.8,5.8M448.3,135.1l5.8,-5.8M459.3,161.9h6.4M462.5,158.7v6.4M459.6,159.0l5.8,5.8M459.6,164.8l5.8,-5.8M459.3,171.0h6.4M462.5,167.8v6.4M459.6,168.1l5.8,5.8M459.6,173.9l5.8,-5.8M459.3,180.1h6.4M462.5,176.9v6.4M459.6,177.2l5.8,5.8M459.6,183.0l5.8,-5.8M459.3,205.2h6.4M462.5,202.0v6.4M459.6,202.3l5.8,5.8M459.6,208.1l5.8,-5.8M469.6,258.8h6.4M472.8,255.6v6.4M469.9,255.9l5.8,5.8M469.9,261.7l5.8,-5.8M423.2,95.0h6.4M426.4,91.8v6.4M423.5,92.1l5.8,5.8M423.5,97.9l5.8,-5.8M424.0,99.0h6.4M427.2,95.8v6.4M424.3,96.1l5.8,5.8M424.3,101.9l5.8,-5.8M423.2,103.0h6.4M426.4,99.8v6.4M423.5,100.1l5.8,5.8M423.5,105.9l5.8,-5.8M424.0,107.0h6.4M427.2,103.8v6.4M424.3,104.1l5.8,5.8M424.3,109.9l5.8,-5.8M423.2,111.0h6.4M426.4,107.8v6.4M423.5,108.1l5.8,5.8M423.5,113.9l5.8,-5.8M424.0,115.0h6.4M427.2,111.8v6.4M424.3,112.1l5.8,5.8M424.3,117.9l5.8,-5.8M423.2,119.0h6.4M426.4,115.8v6.4M423.5,116.1l5.8,5.8M423.5,121.9l5.8,-5.8M424.0,123.0h6.4M427.2,119.8v6.4M424.3,120.1l5.8,5.8M424.3,125.9l5.8,-5.8M423.2,127.0h6.4M426.4,123.8v6.4M423.5,124.1l5.8,5.8M423.5,129.9l5.8,-5.8M424.0,131.0h6.4M427.2,127.8v6.4M424.3,128.1l5.8,5.8M424.3,133.9l5.8,-5.8M423.2,135.0h6.4M426.4,131.8v6.4M423.5,132.1l5.8,5.8M423.5,137.9l5.8,-5.8M430.6,86.0h6.4M433.8,82.8v6.4M430.9,83.1l5.8,5.8M430.9,88.9l5.8,-5.8M431.4,90.0h6.4M434.6,86.8v6.4M431.7,87.1l5.8,5.8M431.7,92.9l5.8,-5.8M430.6,94.0h6.4M433.8,90.8v6.4M430.9,91.1l5.8,5.8M430.9,96.9l5.8,-5.8M431.4,98.0h6.4M434.6,94.8v6.4M431.7,95.1l5.8,5.8M431.7,100.9l5.8,-5.8M430.6,102.0h6.4M433.8,98.8v6.4M430.9,99.1l5.8,5.8M430.9,104.9l5.8,-5.8M431.4,106.0h6.4M434.6,102.8v6.4M431.7,103.1l5.8,5.8M431.7,108.9l5.8,-5.8M430.6,110.0h6.4M433.8,106.8v6.4M430.9,107.1l5.8,5.8M430.9,112.9l5.8,-5.8M431.4,114.0h6.4M434.6,110.8v6.4M431.7,111.1l5.8,5.8M431.7,116.9l5.8,-5.8M430.6,118.0h6.4M433.8,114.8v6.4M430.9,115.1l5.8,5.8M430.9,120.9l5.8,-5.8M431.4,122.0h6.4M434.6,118.8v6.4M431.7,119.1l5.8,5.8M431.7,124.9l5.8,-5.8M430.6,126.0h6.4M433.8,122.8v6.4M430.9,123.1l5.8,5.8M430.9,128.9l5.8,-5.8M431.4,130.0h6.4M434.6,126.8v6.4M431.7,127.1l5.8,5.8M431.7,132.9l5.8,-5.8M430.6,134.0h6.4M433.8,130.8v6.4M430.9,131.1l5.8,5.8M430.9,136.9l5.8,-5.8M431.4,138.0h6.4M434.6,134.8v6.4M431.7,135.1l5.8,5.8M431.7,140.9l5.8,-5.8M430.6,142.0h6.4M433.8,138.8v6.4M430.9,139.1l5.8,5.8M430.9,144.9l5.8,-5.8M431.4,146.0h6.4M434.6,142.8v6.4M431.7,143.1l5.8,5.8M431.7,148.9l5.8,-5.8M430.6,150.0h6.4M433.8,146.8v6.4M430.9,147.1l5.8,5.8M430.9,152.9l5.8,-5.8M431.4,154.0h6.4M434.6,150.8v6.4M431.7,151.1l5.8,5.8M431.7,156.9l5.8,-5.8M427.3,130.0h6.4M430.5,126.8v6.4M427.6,127.1l5.8,5.8M427.6,132.9l5.8,-5.8M428.3,135.0h6.4M431.5,131.8v6.4M428.6,132.1l5.8,5.8M428.6,137.9l5.8,-5.8M429.3,140.0h6.4M432.5,136.8v6.4M429.6,137.1l5.8,5.8M429.6,142.9l5.8,-5.8M427.3,145.0h6.4M430.5,141.8v6.4M427.6,142.1l5.8,5.8M427.6,147.9l5.8,-5.8M428.3,150.0h6.4M431.5,146.8v6.4M428.6,147.1l5.8,5.8M428.6,152.9l5.8,-5.8M429.3,155.0h6.4M432.5,151.8v6.4M429.6,152.1l5.8,5.8M429.6,157.9l5.8,-5.8" stroke="#1f8deb" stroke-width="1"/><path d="M65.3,25.5 L65.9,26.7 L66.5,27.9 L67.1,29.1 L67.6,30.4 L68.2,31.6 L68.8,32.9 L69.3,34.1 L69.9,35.3 L70.5,36.6 L71.0,37.8 L71.6,39.0 L72.2,40.3 L72.7,41.5 L73.3,42.8 L73.8,44.0 L74.4,45.3 L75.0,46.5 L75.5,47.7 L76.1,49.0 L76.7,50.2 L77.2,51.5 L77.8,52.7 L78.3,54.0 L78.9,55.2 L79.4,56.5 L80.0,57.7 L80.6,59.0 L81.1,60.3 L81.7,61.5 L82.2,62.8 L82.8,64.0 L83.3,65.3 L83.9,66.5 L84.4,67.8 L85.0,69.0 L85.5,70.3 L86.1,71.6 L86.7,72.8 L87.2,74.1 L87.8,75.3 L88.3,76.6 L88.8,77.9 L89.4,79.1 L89.9,80.4 L90.5,81.7 L91.0,82.9 L91.6,84.2 L92.1,85.5 L92.7,86.7 L93.2,88.0 L93.8,89.2 L94.3,90.5 L94.8,91.8 L95.4,93.0 L95.9,94.3 L96.5,95.6 L97.0,96.8 L97.6,98.1 L98.1,99.4 L98.6,100.6 L99.2,101.9 L99.7,103.2 L100.2,104.4 L100.8,105.7 L101.3,107.0 L101.9,108.2 L102.4,109.5 L102.9,110.8 L103.5,112.1 L104.0,113.3 L104.5,114.6 L105.1,115.9 L105.6,117.1 L106.1,118.4 L106.6,119.7 L107.2,120.9 L107.7,122.2 L108.2,123.5 L108.8,124.7 L109.3,126.0 L109.8,127.3 L110.3,128.5 L110.9,129.8 L111.4,131.1 L111.9,132.3 L112.4,133.6 L113.0,134.8 L113.5,136.1 L114.0,137.4 L114.5,138.6 L115.0,139.9 L115.6,141.2 L116.1,142.4 L116.6,143.7 L117.1,145.0 L117.7,146.2 L118.2,147.5 L118.7,148.7 L119.2,150.0 L119.8,151.3 L120.3,152.5 L120.8,153.8 L121.3,155.0 L121.9,156.3 L122.4,157.5 L122.9,158.8 L123.5,160.1 L124.0,161.3 L124.5,162.6 L125.1,163.8 L125.6,165.1 L126.2,166.3 L126.7,167.6 L127.3,168.8 L127.8,170.1 L128.4,171.3 L128.9,172.6 L129.5,173.8 L130.0,175.1 L130.6,176.3 L131.1,177.6 L131.7,178.8 L132.3,180.0 L132.8,181.3 L133.4,182.5 L134.0,183.8 L134.6,185.0 L135.1,186.2 L135.7,187.5 L136.3,188.7 L136.9,189.9 L137.5,191.2 L138.1,192.4 L138.7,193.6 L139.3,194.9 L139.9,196.1 L140.5,197.3 L141.1,198.6 L141.8,199.8 L142.4,201.0 L143.0,202.2 L143.7,203.5 L144.3,204.7 L144.9,205.9 L145.6,207.1 L146.3,208.3 L146.9,209.5 L147.6,210.7 L148.3,211.9 L149.0,213.1 L149.7,214.3 L150.4,215.5 L151.1,216.7 L151.8,217.8 L152.6,219.0 L153.3,220.2 L154.1,221.3 L154.9,222.4 L155.6,223.6 L156.5,224.7 L157.3,225.8 L158.1,226.9 L159.0,228.0 L159.8,229.0 L160.7,230.1 L161.6,231.2 L162.6,232.2 L163.5,233.2 L164.5,234.2 L165.5,235.2 L166.5,236.1 L167.5,237.0 L168.5,237.9 L169.6,238.8 L170.7,239.6 L171.8,240.3 L172.9,241.0 L174.1,241.7 L175.3,242.3 L176.5,242.9 L177.7,243.4 L179.0,243.8 L180.3,244.1 L181.6,244.4 L182.9,244.7 L184.3,244.8 L185.6,244.9 L187.0,245.0 L188.4,244.9 L189.7,244.8 L191.1,244.6 L192.5,244.4 L193.9,244.0 L195.2,243.6 L196.5,243.2 L197.9,242.6 L199.2,242.0 L200.5,241.4 L201.7,240.7 L203.0,239.9 L204.2,239.1 L205.4,238.3 L206.5,237.5 L207.6,236.7 L208.7,235.8 L209.7,235.0 L210.7,234.1 L211.7,233.2 L212.7,232.3 L213.6,231.4 L214.6,230.4 L215.5,229.5 L216.4,228.5 L217.3,227.6 L218.2,226.6 L219.0,225.6 L219.9,224.6 L220.8,223.6 L221.7,222.6 L222.5,221.6 L223.4,220.6 L224.3,219.6 L225.2,218.6 L226.1,217.5 L227.0,216.5 L227.9,215.4 L228.8,214.4 L229.7,213.3 L230.6,212.3 L231.5,211.2 L232.4,210.2 L233.3,209.1 L234.3,208.1 L235.2,207.0 L236.1,205.9 L237.0,204.9 L237.9,203.8 L238.9,202.8 L239.8,201.7 L240.7,200.7 L241.6,199.6 L242.6,198.6 L243.5,197.5 L244.4,196.5 L245.4,195.5 L246.3,194.4 L247.2,193.4 L248.2,192.4 L249.1,191.4 L250.0,190.4 L251.0,189.4 L251.9,188.5 L252.9,187.5 L253.8,186.5 L254.8,185.6 L255.8,184.6 L256.7,183.7 L257.7,182.8 L258.7,181.9 L259.7,181.0 L260.7,180.1 L261.7,179.2 L262.8,178.3 L263.8,177.5 L264.9,176.7 L266.0,175.8 L267.0,175.0 L268.1,174.2 L269.3,173.4 L270.4,172.7 L271.5,171.9 L272.7,171.2 L273.9,170.5 L275.1,169.8 L276.3,169.1 L277.6,168.4 L278.8,167.8 L280.1,167.2 L281.4,166.6 L282.7,166.1 L284.0,165.6 L285.3,165.2 L286.7,164.9 L288.0,164.7 L289.3,164.6 L290.6,164.5 L291.9,164.6 L293.2,164.8 L294.5,165.1 L295.8,165.5 L297.1,165.9 L298.3,166.5 L299.6,167.1 L300.8,167.8 L302.0,168.5 L303.1,169.3 L304.2,170.1 L305.3,171.0 L306.4,171.9 L307.4,172.8 L308.5,173.7 L309.4,174.7 L310.4,175.7 L311.4,176.7 L312.3,177.7 L313.2,178.7 L314.1,179.8 L315.0,180.9 L315.8,181.9 L316.7,183.0 L317.6,184.1 L318.4,185.2 L319.3,186.2 L320.1,187.3 L321.0,188.4 L321.8,189.5 L322.7,190.5 L323.6,191.6 L324.4,192.6 L325.3,193.7 L326.2,194.7 L327.0,195.8 L327.9,196.8 L328.8,197.9 L329.6,198.9 L330.5,199.9 L331.4,201.0 L332.2,202.0 L333.1,203.1 L334.0,204.1 L334.8,205.2 L335.7,206.2 L336.5,207.3 L337.4,208.4 L338.2,209.4 L339.1,210.5 L339.9,211.6 L340.7,212.7 L341.6,213.8 L342.4,214.9 L343.2,216.1 L344.0,217.2 L344.8,218.3 L345.6,219.5 L346.5,220.6 L347.3,221.8 L348.1,222.9 L349.0,224.0 L349.8,225.1 L350.7,226.2 L351.6,227.2 L352.5,228.3 L353.4,229.3 L354.4,230.3 L355.3,231.2 L356.3,232.1 L357.4,233.0 L358.4,233.9 L359.5,234.7 L360.7,235.4 L361.9,236.1 L363.1,236.8 L364.3,237.4 L365.6,237.9 L366.9,238.4 L368.3,238.7 L369.6,239.0 L371.0,239.1 L372.4,239.1 L373.7,238.9 L375.0,238.6 L376.4,238.1 L377.7,237.6 L378.9,237.0 L380.1,236.3 L381.3,235.5 L382.4,234.8 L383.5,233.9 L384.6,233.1 L385.6,232.2 L386.5,231.3 L387.4,230.4 L388.3,229.4 L389.2,228.4 L390.0,227.3 L390.8,226.2 L391.5,225.2 L392.2,224.0 L392.9,222.9 L393.6,221.7 L394.2,220.5 L394.8,219.3 L395.4,218.1 L396.0,216.8 L396.5,215.6 L397.1,214.3 L397.6,213.0 L398.1,211.7 L398.5,210.4 L399.0,209.1 L399.4,207.7 L399.9,206.4 L400.3,205.1 L400.7,203.7 L401.1,202.3 L401.5,201.0 L401.9,199.6 L402.3,198.3 L402.7,196.9 L403.1,195.5 L403.5,194.2 L403.9,192.8 L404.3,191.5 L404.7,190.2 L405.1,188.8 L405.5,187.5 L405.9,186.2 L406.3,184.9 L406.7,183.6 L407.1,182.2 L407.5,180.9 L407.9,179.6 L408.3,178.3 L408.7,177.0 L409.1,175.7 L409.5,174.4 L409.9,173.1 L410.2,171.8 L410.6,170.5 L411.0,169.3 L411.4,168.0 L411.8,166.7 L412.1,165.4 L412.5,164.1 L412.9,162.8 L413.2,161.5 L413.6,160.2 L413.9,158.9 L414.3,157.6 L414.6,156.3 L414.9,155.0 L415.3,153.7 L415.6,152.4 L415.9,151.1 L416.2,149.8 L416.5,148.5 L416.9,147.2 L417.2,145.9 L417.5,144.6 L417.8,143.2 L418.2,141.9 L418.5,140.6 L418.9,139.3 L419.2,137.9 L419.6,136.6 L420.0,135.2 L420.4,133.9 L420.8,132.5 L421.2,131.2 L421.7,129.8 L422.1,128.4 L422.6,127.1 L423.1,125.7 L423.6,124.3 L424.2,122.9 L424.7,121.5 L425.3,120.2 L425.9,118.8 L426.5,117.4 L427.2,116.1 L427.8,114.8 L428.5,113.6 L429.2,112.3 L429.9,111.2 L430.7,110.0 L431.4,108.9 L432.2,107.9 L433.0,107.0 L433.9,106.3 L434.7,105.7 L435.6,105.4 L436.5,105.3 L437.4,105.4 L438.3,105.8 L439.2,106.4 L440.1,107.2 L441.0,108.1 L441.9,109.2 L442.7,110.4 L443.6,111.6 L444.4,112.9 L445.1,114.2 L445.8,115.5 L446.5,116.8 L447.1,118.1 L447.7,119.5 L448.2,120.8 L448.7,122.1 L449.2,123.4 L449.6,124.8 L450.0,126.1 L450.4,127.4 L450.8,128.8 L451.1,130.1 L451.4,131.4 L451.7,132.8 L452.0,134.1 L452.3,135.5 L452.6,136.8 L452.8,138.1 L453.1,139.5 L453.3,140.8 L453.6,142.2 L453.8,143.5 L454.1,144.9 L454.3,146.2 L454.6,147.5 L454.8,148.9 L455.0,150.2 L455.3,151.6 L455.5,152.9 L455.8,154.3 L456.0,155.6 L456.2,157.0 L456.5,158.3 L456.7,159.6 L456.9,161.0 L457.2,162.3 L457.4,163.7 L457.6,165.0 L457.8,166.4 L458.1,167.7 L458.3,169.1 L458.5,170.4 L458.7,171.8 L459.0,173.1 L459.2,174.5 L459.4,175.8 L459.6,177.2 L459.9,178.5 L460.1,179.9 L460.3,181.2 L460.5,182.6 L460.7,183.9 L461.0,185.3 L461.2,186.6 L461.4,188.0 L461.6,189.3 L461.8,190.7 L462.0,192.0 L462.2,193.4 L462.4,194.7 L462.7,196.1 L462.9,197.4 L463.1,198.8 L463.3,200.2 L463.5,201.5 L463.7,202.9 L463.9,204.2 L464.1,205.6 L464.3,206.9 L464.5,208.3 L464.7,209.6 L464.9,211.0 L465.1,212.3 L465.3,213.7 L465.5,215.1 L465.7,216.4 L465.9,217.8 L466.1,219.1 L466.3,220.5 L466.5,221.8 L466.7,223.2 L466.9,224.5 L467.1,225.9 L467.3,227.3 L467.5,228.6 L467.7,230.0 L467.9,231.3 L468.1,232.7 L468.3,234.0 L468.5,235.4 L468.7,236.8 L468.9,238.1 L469.1,239.5 L469.3,240.8 L469.5,242.2 L469.7,243.5 L469.9,244.9 L470.1,246.3 L470.3,247.6 L470.5,249.0 L470.7,250.3 L470.9,251.7 L471.1,253.0 L471.3,254.4 L471.4,255.8 L471.6,257.1 L471.8,258.5 L472.0,259.8 L472.2,261.2 L472.4,262.6 L472.6,263.9 L472.8,265.3 L473.0,266.6 L473.2,268.0 L473.4,269.3 L473.6,270.7 L473.8,272.1 L473.9,273.4 L474.1,274.8 L474.3,276.1 L474.5,277.5 L474.7,278.9 L474.9,280.2 L475.1,281.6 L475.3,282.9 L475.5,284.3 L475.7,285.7 L475.9,287.0 L476.1,288.4 L476.3,289.7 L476.5,291.1 L476.6,292.4 L476.8,293.8 L477.0,295.2 L477.2,296.5 L477.4,297.9 L477.6,299.2 L477.8,300.6 L478.0,302.0 L478.2,303.3 L478.4,304.7 L478.6,306.0 L478.8,307.4 L479.0,308.7 L479.2,310.1 L479.4,311.5 L479.6,312.8 L479.8,314.2 L480.0,315.5 L480.2,316.9 L480.4,318.2 L480.6,319.6 L480.8,321.0 L481.0,322.3 L481.2,323.7 L481.4,325.0 L481.6,326.4 L481.8,327.7 L482.0,329.1 L482.2,330.5 L482.4,331.8 L482.6,333.2 L482.8,334.5 L483.0,335.9 L483.2,337.2 L483.4,338.6 L483.6,339.9 L483.8,341.3 L484.0,342.7 L484.3,344.0 L484.5,345.4 L484.7,346.7 L484.9,348.1 L485.1,349.4 L485.3,350.8 L485.5,352.1 L485.7,353.5 L485.9,354.8 L486.2,356.2 L486.4,357.5 L486.6,358.9 L486.8,360.3 L487.0,361.6 L487.3,363.0 L487.5,364.3 L487.7,365.7 L487.9,367.0 L488.1,368.4 L488.4,369.7 L488.6,371.1 L488.8,372.4 L489.0,373.8 L489.3,375.1 L489.5,376.5 L489.7,377.8 L489.9,379.2 L490.2,380.5 L490.4,381.9 L490.6,383.2 L490.9,384.6 L491.1,385.9 L491.3,387.3 L491.6,388.6 L491.8,390.0 L492.1,391.3 L492.3,392.6 L492.5,394.0" stroke="#194a9a" stroke-width="1.8" stroke-linejoin="round"/><path d="M82.5,0.5 L83.0,1.8 L83.5,3.1 L84.0,4.4 L84.4,5.7 L84.9,6.9 L85.4,8.2 L85.9,9.5 L86.3,10.8 L86.8,12.1 L87.3,13.4 L87.7,14.6 L88.2,15.9 L88.6,17.2 L89.0,18.5 L89.5,19.8 L89.9,21.1 L90.3,22.4 L90.8,23.7 L91.2,25.0 L91.6,26.3 L92.0,27.6 L92.4,28.9 L92.8,30.2 L93.2,31.5 L93.6,32.8 L94.0,34.1 L94.4,35.4 L94.8,36.8 L95.2,38.1 L95.6,39.4 L96.0,40.7 L96.3,42.0 L96.7,43.3 L97.1,44.6 L97.5,46.0 L97.8,47.3 L98.2,48.6 L98.5,49.9 L98.9,51.2 L99.2,52.5 L99.6,53.9 L99.9,55.2 L100.3,56.5 L100.6,57.8 L101.0,59.2 L101.3,60.5 L101.7,61.8 L102.0,63.1 L102.3,64.4 L102.7,65.8 L103.0,67.1 L103.3,68.4 L103.6,69.7 L104.0,71.1 L104.3,72.4 L104.6,73.7 L104.9,75.1 L105.2,76.4 L105.5,77.7 L105.9,79.0 L106.2,80.4 L106.5,81.7 L106.8,83.0 L107.1,84.3 L107.4,85.7 L107.7,87.0 L108.0,88.3 L108.3,89.7 L108.6,91.0 L108.9,92.3 L109.2,93.6 L109.5,95.0 L109.8,96.3 L110.1,97.6 L110.4,98.9 L110.7,100.3 L111.0,101.6 L111.3,102.9 L111.6,104.2 L111.9,105.6 L112.2,106.9 L112.5,108.2 L112.8,109.5 L113.1,110.9 L113.4,112.2 L113.7,113.5 L114.0,114.8 L114.3,116.2 L114.5,117.5 L114.8,118.8 L115.1,120.2 L115.4,121.5 L115.7,122.8 L116.0,124.1 L116.3,125.5 L116.6,126.8 L116.9,128.1 L117.2,129.4 L117.5,130.8 L117.8,132.1 L118.1,133.4 L118.4,134.7 L118.7,136.1 L119.0,137.4 L119.3,138.7 L119.6,140.0 L120.0,141.4 L120.3,142.7 L120.6,144.0 L120.9,145.4 L121.2,146.7 L121.5,148.0 L121.8,149.3 L122.2,150.7 L122.5,152.0 L122.8,153.3 L123.1,154.7 L123.4,156.0 L123.8,157.3 L124.1,158.7 L124.4,160.0 L124.8,161.3 L125.1,162.7 L125.4,164.0 L125.8,165.3 L126.1,166.7 L126.5,168.0 L126.8,169.3 L127.2,170.7 L127.5,172.0 L127.9,173.3 L128.2,174.7 L128.6,176.0 L129.0,177.3 L129.3,178.7 L129.7,180.0 L130.1,181.3 L130.4,182.7 L130.8,184.0 L131.2,185.3 L131.5,186.7 L131.9,188.0 L132.3,189.3 L132.6,190.7 L133.0,192.0 L133.4,193.3 L133.7,194.6 L134.1,196.0 L134.5,197.3 L134.8,198.6 L135.2,199.9 L135.6,201.2 L135.9,202.5 L136.3,203.8 L136.6,205.2 L137.0,206.5 L137.3,207.8 L137.7,209.1 L138.0,210.4 L138.4,211.6 L138.7,212.9 L139.1,214.2 L139.5,215.5 L139.9,216.8 L140.2,218.1 L140.6,219.3 L141.0,220.6 L141.5,221.9 L141.9,223.1 L142.4,224.4 L142.8,225.6 L143.3,226.9 L143.8,228.1 L144.4,229.4 L144.9,230.6 L145.5,231.8 L146.1,233.1 L146.8,234.3 L147.5,235.5 L148.2,236.7 L148.9,237.9 L149.7,239.1 L150.5,240.3 L151.3,241.4 L152.2,242.4 L153.2,243.4 L154.2,244.4 L155.2,245.2 L156.3,245.9 L157.5,246.5 L158.7,247.0 L159.9,247.4 L161.1,247.6 L162.4,247.6 L163.6,247.5 L164.8,247.2 L165.9,246.7 L167.0,246.1 L168.1,245.3 L169.2,244.3 L170.2,243.3 L171.1,242.2 L172.1,241.0 L173.0,239.7 L173.9,238.5 L174.8,237.2 L175.6,236.0 L176.4,234.8 L177.2,233.6 L178.0,232.4 L178.7,231.3 L179.5,230.1 L180.2,229.0 L180.9,227.9 L181.6,226.8 L182.3,225.7 L182.9,224.6 L183.6,223.5 L184.2,222.4 L184.8,221.3 L185.5,220.2 L186.1,219.0 L186.7,217.9 L187.3,216.7 L187.9,215.5 L188.5,214.3 L189.1,213.1 L189.7,211.9 L190.2,210.7 L190.8,209.4 L191.4,208.2 L191.9,206.9 L192.5,205.7 L193.1,204.4 L193.6,203.1 L194.1,201.8 L194.7,200.5 L195.2,199.3 L195.8,198.0 L196.3,196.7 L196.8,195.4 L197.4,194.0 L197.9,192.7 L198.4,191.4 L198.9,190.1 L199.5,188.8 L200.0,187.5 L200.5,186.2 L201.0,184.9 L201.5,183.6 L202.0,182.2 L202.6,180.9 L203.1,179.6 L203.6,178.3 L204.1,177.0 L204.6,175.8 L205.1,174.5 L205.7,173.2 L206.2,171.9 L206.7,170.7 L207.2,169.4 L207.8,168.2 L208.3,166.9 L208.8,165.7 L209.3,164.5 L209.9,163.2 L210.4,162.0 L211.0,160.9 L211.5,159.7 L212.0,158.5 L212.6,157.4 L213.2,156.2 L213.7,155.1 L214.3,154.0 L214.9,152.8 L215.5,151.7 L216.0,150.6 L216.7,149.4 L217.3,148.3 L217.9,147.1 L218.6,145.9 L219.3,144.7 L219.9,143.5 L220.7,142.2 L221.4,140.9 L222.1,139.6 L222.9,138.3 L223.7,136.9 L224.5,135.5 L225.4,134.2 L226.3,132.8 L227.2,131.6 L228.1,130.4 L229.1,129.3 L230.1,128.4 L231.2,127.6 L232.2,126.9 L233.3,126.4 L234.5,126.0 L235.6,125.8 L236.8,125.6 L238.0,125.6 L239.2,125.7 L240.4,125.9 L241.6,126.3 L242.9,126.7 L244.1,127.1 L245.3,127.7 L246.5,128.3 L247.7,129.0 L248.8,129.8 L250.0,130.6 L251.1,131.5 L252.1,132.4 L253.2,133.3 L254.2,134.2 L255.2,135.2 L256.1,136.2 L257.1,137.3 L257.9,138.3 L258.8,139.4 L259.6,140.4 L260.5,141.5 L261.2,142.7 L262.0,143.8 L262.8,144.9 L263.5,146.1 L264.2,147.3 L264.9,148.4 L265.6,149.6 L266.3,150.8 L267.0,152.0 L267.7,153.2 L268.3,154.4 L269.0,155.6 L269.7,156.8 L270.3,158.0 L271.0,159.2 L271.7,160.4 L272.3,161.6 L273.0,162.7 L273.7,163.9 L274.4,165.1 L275.1,166.3 L275.8,167.5 L276.5,168.6 L277.2,169.8 L277.9,171.0 L278.6,172.1 L279.3,173.3 L280.0,174.4 L280.7,175.6 L281.4,176.7 L282.2,177.9 L282.9,179.0 L283.7,180.2 L284.4,181.3 L285.2,182.4 L285.9,183.6 L286.7,184.7 L287.5,185.8 L288.2,186.9 L289.0,188.1 L289.8,189.2 L290.6,190.3 L291.4,191.4 L292.2,192.5 L293.0,193.6 L293.9,194.7 L294.7,195.8 L295.6,196.9 L296.4,197.9 L297.3,198.9 L298.3,199.9 L299.3,200.8 L300.3,201.6 L301.4,202.4 L302.5,203.2 L303.7,203.8 L304.9,204.4 L306.2,204.9 L307.5,205.3 L308.8,205.6 L310.1,205.8 L311.4,205.9 L312.7,205.8 L314.0,205.7 L315.3,205.4 L316.6,205.1 L317.9,204.6 L319.1,204.1 L320.4,203.5 L321.6,202.8 L322.8,202.1 L324.0,201.3 L325.1,200.4 L326.3,199.5 L327.4,198.6 L328.4,197.6 L329.5,196.6 L330.4,195.5 L331.4,194.5 L332.3,193.4 L333.2,192.4 L334.1,191.3 L334.9,190.2 L335.7,189.1 L336.4,188.1 L337.2,187.0 L337.9,185.8 L338.6,184.7 L339.3,183.6 L340.0,182.5 L340.6,181.4 L341.3,180.2 L342.0,179.1 L342.6,177.9 L343.3,176.8 L343.9,175.6 L344.6,174.5 L345.3,173.3 L346.0,172.2 L346.7,171.0 L347.4,169.8 L348.1,168.7 L348.9,167.5 L349.6,166.3 L350.3,165.2 L351.1,164.0 L351.8,162.8 L352.6,161.7 L353.3,160.5 L354.1,159.3 L354.9,158.2 L355.6,157.0 L356.4,155.8 L357.2,154.7 L358.0,153.5 L358.7,152.4 L359.5,151.2 L360.3,150.1 L361.1,149.0 L361.8,147.8 L362.6,146.7 L363.4,145.6 L364.2,144.5 L364.9,143.4 L365.7,142.3 L366.5,141.2 L367.3,140.1 L368.1,139.0 L368.9,138.0 L369.8,136.9 L370.6,135.9 L371.5,134.8 L372.3,133.8 L373.2,132.8 L374.2,131.9 L375.1,130.9 L376.1,130.0 L377.1,129.0 L378.1,128.1 L379.2,127.2 L380.2,126.4 L381.4,125.5 L382.5,124.7 L383.7,123.9 L384.9,123.1 L386.1,122.4 L387.4,121.8 L388.7,121.2 L389.9,120.7 L391.2,120.2 L392.5,119.8 L393.8,119.5 L395.2,119.3 L396.5,119.1 L397.8,119.1 L399.1,119.2 L400.4,119.4 L401.7,119.6 L403.0,120.0 L404.2,120.4 L405.5,120.9 L406.7,121.5 L407.9,122.1 L409.1,122.8 L410.3,123.6 L411.4,124.4 L412.5,125.2 L413.6,126.1 L414.6,127.1 L415.6,128.0 L416.6,129.0 L417.5,130.1 L418.4,131.1 L419.2,132.2 L420.0,133.2 L420.8,134.3 L421.6,135.4 L422.3,136.6 L423.0,137.7 L423.7,138.9 L424.4,140.0 L425.1,141.2 L425.8,142.4 L426.5,143.6 L427.2,144.8 L427.9,146.0 L428.6,147.2 L429.3,148.5 L430.0,149.7 L430.7,150.9 L431.4,152.2 L432.0,153.4 L432.6,154.6 L433.3,155.9 L433.9,157.1 L434.5,158.4 L435.1,159.6 L435.7,160.9 L436.2,162.1 L436.8,163.4 L437.3,164.6 L437.9,165.9 L438.4,167.2 L438.9,168.4 L439.4,169.7 L439.9,170.9 L440.4,172.2 L440.9,173.5 L441.4,174.7 L441.8,176.0 L442.3,177.3 L442.7,178.5 L443.2,179.8 L443.6,181.1 L444.1,182.3 L444.5,183.6 L444.9,184.9 L445.3,186.2 L445.7,187.5 L446.1,188.7 L446.5,190.0 L446.9,191.3 L447.3,192.6 L447.7,193.9 L448.1,195.1 L448.5,196.4 L448.9,197.7 L449.3,199.0 L449.7,200.3 L450.1,201.6 L450.4,202.9 L450.8,204.2 L451.2,205.5 L451.6,206.8 L452.0,208.1 L452.4,209.4 L452.7,210.6 L453.1,211.9 L453.5,213.2 L453.9,214.5 L454.3,215.8 L454.6,217.1 L455.0,218.5 L455.4,219.8 L455.8,221.1 L456.2,222.4 L456.5,223.7 L456.9,225.0 L457.3,226.3 L457.7,227.6 L458.1,228.9 L458.4,230.2 L458.8,231.5 L459.2,232.8 L459.6,234.1 L459.9,235.5 L460.3,236.8 L460.7,238.1 L461.1,239.4 L461.5,240.7 L461.8,242.0 L462.2,243.3 L462.6,244.7 L463.0,246.0 L463.4,247.3 L463.7,248.6 L464.1,249.9 L464.5,251.3 L464.9,252.6 L465.2,253.9 L465.6,255.2 L466.0,256.5 L466.4,257.9 L466.8,259.2 L467.1,260.5 L467.5,261.8 L467.9,263.2 L468.3,264.5 L468.6,265.8 L469.0,267.1 L469.4,268.5 L469.7,269.8 L470.1,271.1 L470.5,272.4 L470.9,273.8 L471.2,275.1 L471.6,276.4 L471.9,277.7 L472.3,279.1 L472.7,280.4 L473.0,281.7 L473.4,283.1 L473.7,284.4 L474.1,285.7 L474.4,287.0 L474.8,288.4 L475.1,289.7 L475.5,291.0 L475.8,292.4 L476.1,293.7 L476.5,295.0 L476.8,296.3 L477.1,297.7 L477.5,299.0 L477.8,300.3 L478.1,301.7 L478.4,303.0 L478.7,304.3 L479.0,305.7 L479.3,307.0 L479.7,308.3 L480.0,309.6 L480.3,311.0 L480.6,312.3 L480.9,313.6 L481.2,315.0 L481.4,316.3 L481.7,317.6 L482.0,318.9 L482.3,320.3 L482.6,321.6 L482.9,322.9 L483.2,324.3 L483.5,325.6 L483.8,326.9 L484.1,328.2 L484.4,329.6 L484.6,330.9 L484.9,332.2 L485.2,333.5 L485.5,334.9 L485.8,336.2 L486.1,337.5 L486.4,338.8 L486.7,340.2 L487.0,341.5 L487.3,342.8 L487.6,344.1 L487.9,345.5 L488.2,346.8 L488.5,348.1 L488.8,349.4 L489.1,350.7 L489.4,352.1 L489.7,353.4 L490.0,354.7 L490.4,356.0 L490.7,357.3 L491.0,358.7 L491.4,360.0 L491.7,361.3 L492.0,362.6 L492.4,363.9 L492.7,365.2 L493.1,366.5 L493.4,367.9 L493.8,369.2 L494.1,370.5 L494.5,371.8 L494.9,373.1 L495.3,374.4 L495.7,375.7 L496.1,377.0 L496.4,378.3 L496.9,379.6 L497.3,381.0 L497.7,382.3 L498.1,383.6 L498.5,384.9 L499.0,386.2 L499.4,387.5 L499.8,388.8 L500.3,390.1 L500.8,391.4 L501.2,392.7 L501.7,394.0" stroke="#bb4420" stroke-width="1.8" stroke-linejoin="round"/></g><path d="M65.0,0.6H598.3V394.0H65.0ZM65.00,394.0v-7.9M65.00,0.6v7.9M98.33,394.0v-3.95M98.33,0.6v3.95M131.66,394.0v-3.95M131.66,0.6v3.95M164.99,394.0v-3.95M164.99,0.6v3.95M198.33,394.0v-3.95M198.33,0.6v3.95M231.66,394.0v-7.9M231.66,0.6v7.9M264.99,394.0v-3.95M264.99,0.6v3.95M298.32,394.0v-3.95M298.32,0.6v3.95M331.65,394.0v-3.95M331.65,0.6v3.95M364.98,394.0v-3.95M364.98,0.6v3.95M398.31,394.0v-7.9M398.31,0.6v7.9M431.64,394.0v-3.95M431.64,0.6v3.95M464.98,394.0v-3.95M464.98,0.6v3.95M498.31,394.0v-3.95M498.31,0.6v3.95M531.64,394.0v-3.95M531.64,0.6v3.95M564.97,394.0v-7.9M564.97,0.6v7.9M598.30,394.0v-3.95M598.30,0.6v3.95M65.0,394.00h10.66M598.3,394.00h-10.66M65.0,378.26h5.33M598.3,378.26h-5.33M65.0,362.53h5.33M598.3,362.53h-5.33M65.0,346.79h5.33M598.3,346.79h-5.33M65.0,331.06h5.33M598.3,331.06h-5.33M65.0,315.32h10.66M598.3,315.32h-10.66M65.0,299.58h5.33M598.3,299.58h-5.33M65.0,283.85h5.33M598.3,283.85h-5.33M65.0,268.11h5.33M598.3,268.11h-5.33M65.0,252.38h5.33M598.3,252.38h-5.33M65.0,236.64h10.66M598.3,236.64h-10.66M65.0,220.90h5.33M598.3,220.90h-5.33M65.0,205.17h5.33M598.3,205.17h-5.33M65.0,189.43h5.33M598.3,189.43h-5.33M65.0,173.70h5.33M598.3,173.70h-5.33M65.0,157.96h10.66M598.3,157.96h-10.66M65.0,142.22h5.33M598.3,142.22h-5.33M65.0,126.49h5.33M598.3,126.49h-5.33M65.0,110.75h5.33M598.3,110.75h-5.33M65.0,95.02h5.33M598.3,95.02h-5.33M65.0,79.28h10.66M598.3,79.28h-10.66M65.0,63.54h5.33M598.3,63.54h-5.33M65.0,47.81h5.33M598.3,47.81h-5.33M65.0,32.07h5.33M598.3,32.07h-5.33M65.0,16.34h5.33M598.3,16.34h-5.33M65.0,0.60h10.66M598.3,0.60h-10.66" fill="none" stroke="#000" stroke-width="1.7"/><g font-family="Liberation Sans, sans-serif" font-size="16" fill="#000"><text x="52.6" y="416.6" textLength="24.2" lengthAdjust="spacing">5.0</text><text x="219.4" y="416.6" textLength="23.5" lengthAdjust="spacing">5.5</text><text x="387.1" y="416.6" textLength="22.8" lengthAdjust="spacing">6.0</text><text x="553.7" y="416.6" textLength="22.9" lengthAdjust="spacing">6.5</text><text x="27.2" y="395.0" textLength="32.6" lengthAdjust="spacing">20.5</text><text x="27.2" y="322.0" textLength="32.6" lengthAdjust="spacing">21.0</text><text x="27.2" y="243.3" textLength="32.6" lengthAdjust="spacing">21.5</text><text x="27.2" y="164.7" textLength="32.6" lengthAdjust="spacing">22.0</text><text x="27.2" y="86.0" textLength="32.6" lengthAdjust="spacing">22.5</text><text x="27.2" y="11.3" textLength="32.6" lengthAdjust="spacing">23.0</text></g><g font-family="Liberation Sans, sans-serif" fill="#000" stroke="#000" stroke-width="0.2"><text x="296.3" y="434.9" font-size="15" >l</text><text x="298.8" y="434.9" font-size="15" >o</text><text x="306.9" y="434.9" font-size="15" >g</text><text x="316.9" y="434.9" font-size="16" >[</text><text x="323.6" y="434.9" font-size="15" font-weight="bold" font-style="italic">T</text><text x="342.6" y="434.9" font-size="15" >K</text><text x="353.3" y="434.9" font-size="16" >]</text></g><g font-family="Liberation Sans, sans-serif" fill="#000" stroke="#000" stroke-width="0.25" transform="translate(14.3,0) rotate(-90)"><text x="-269.4" y="0" font-size="14">l</text><text x="-265.9" y="0" font-size="14">o</text><text x="-257.4" y="0" font-size="14">g</text><text x="-247.6" y="0" font-size="16">[</text><text x="-243.3" y="0" font-size="14">D</text><text x="-232.5" y="0" font-size="14">E</text><text x="-223.3" y="0" font-size="14">M</text><text x="-200.3" y="0" font-size="16">(</text><text x="-193.3" y="0" font-size="14">c</text><text x="-184.9" y="0" font-size="14">m</text><text x="-169.9" y="-5.9" font-size="10.5">−</text><text x="-161.5" y="-5.9" font-size="10.5">3</text><text x="-154.4" y="0" font-size="14">K</text><text x="-143.7" y="-5.9" font-size="10.5">−</text><text x="-136.4" y="-5.9" font-size="10.5">1</text><text x="-130.6" y="0" font-size="16">)</text><text x="-124.0" y="0" font-size="16">]</text></g><path d="M332.2,435.2L339.3,423.3M17.0,210.6L2.4,202.0" stroke="#000" stroke-width="1.3" fill="none"/><path d="M98.2,315.8H165" stroke="#194a9a" stroke-width="2"/><path d="M98.2,346.8H165" stroke="#bb4420" stroke-width="2"/><g font-family="Liberation Sans, sans-serif" font-size="12" fill="#1d59ad" stroke="#1d59ad" stroke-width="0.25"><text x="198.0" y="315.8" textLength="25.8" lengthAdjust="spacingAndGlyphs">PCH</text><text x="230.1" y="315.8" textLength="32.9" lengthAdjust="spacingAndGlyphs">cycle</text><text x="269.3" y="315.8" textLength="15.4" lengthAdjust="spacingAndGlyphs">24</text><text x="292.6" y="315.8" textLength="9.6" lengthAdjust="spacingAndGlyphs">–</text><text x="308.5" y="315.8" textLength="21.2" lengthAdjust="spacingAndGlyphs">Apr</text><text x="336.8" y="315.8" textLength="32.0" lengthAdjust="spacingAndGlyphs">2009</text></g><g font-family="Liberation Sans, sans-serif" font-size="12" fill="#bf4a22" stroke="#bf4a22" stroke-width="0.25"><text x="198.0" y="347.2" textLength="25.0" lengthAdjust="spacingAndGlyphs">ECH</text><text x="229.6" y="347.2" textLength="32.9" lengthAdjust="spacingAndGlyphs">cycle</text><text x="269.1" y="347.2" textLength="15.2" lengthAdjust="spacingAndGlyphs">24</text><text x="292.6" y="347.2" textLength="9.6" lengthAdjust="spacingAndGlyphs">–</text><text x="308.5" y="347.2" textLength="22.8" lengthAdjust="spacingAndGlyphs">Mar</text><text x="338.5" y="347.2" textLength="32.0" lengthAdjust="spacingAndGlyphs">2007</text></g></svg></body></html>
